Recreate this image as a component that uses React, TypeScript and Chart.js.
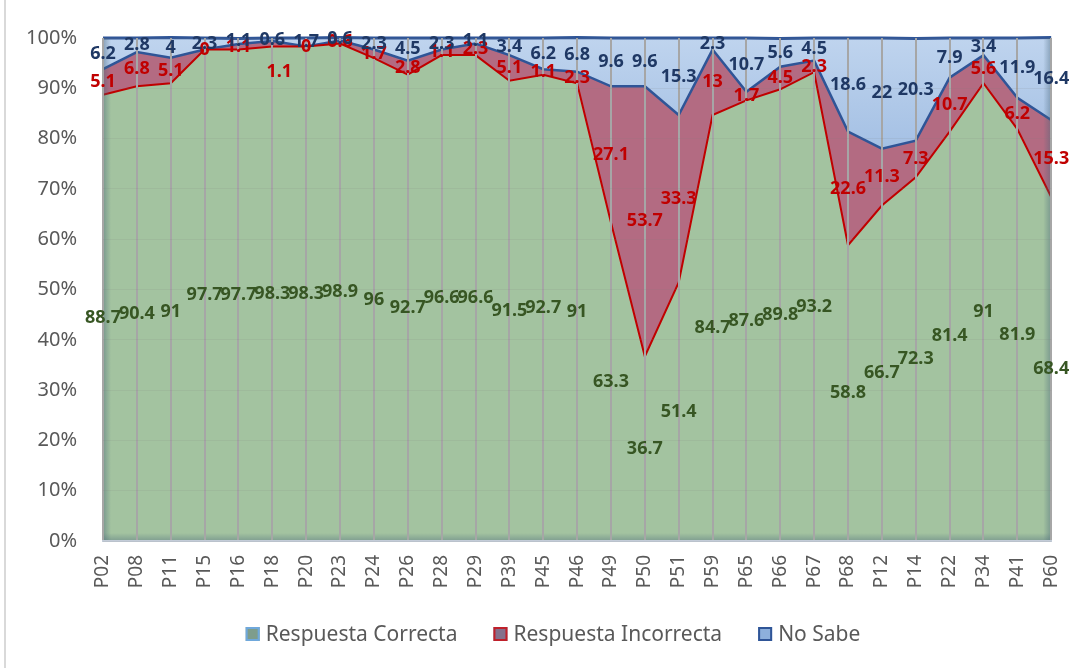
import React, { useEffect, useRef } from 'react';
import { Chart, registerables } from 'chart.js';

Chart.register(...registerables);

const categories = ['P02', 'P08', 'P11', 'P15', 'P16', 'P18', 'P20', 'P23', 'P24', 'P26', 'P28', 'P29', 'P39', 'P45', 'P46', 'P49', 'P50', 'P51', 'P59', 'P65', 'P66', 'P67', 'P68', 'P12', 'P14', 'P22', 'P34', 'P41', 'P60'];
const correct = [88.7, 90.4, 91, 97.7, 97.7, 98.3, 98.3, 98.9, 96, 92.7, 96.6, 96.6, 91.5, 92.7, 91, 63.3, 36.7, 51.4, 84.7, 87.6, 89.8, 93.2, 58.8, 66.7, 72.3, 81.4, 91, 81.9, 68.4];
const incorrect = [5.1, 6.8, 5.1, 0, 1.1, 1.1, 0, 0.6, 1.7, 2.8, 1.1, 2.3, 5.1, 1.1, 2.3, 27.1, 53.7, 33.3, 13, 1.7, 4.5, 2.3, 22.6, 11.3, 7.3, 10.7, 5.6, 6.2, 15.3];
const noSabe = [6.2, 2.8, 4, 2.3, 1.1, 0.6, 1.7, 0.6, 2.3, 4.5, 2.3, 1.1, 3.4, 6.2, 6.8, 9.6, 9.6, 15.3, 2.3, 10.7, 5.6, 4.5, 18.6, 22, 20.3, 7.9, 3.4, 11.9, 16.4];
const seriesNames = ['Respuesta Correcta', 'Respuesta Incorrecta', 'No Sabe'];

const FONT = "'Noto Sans', sans-serif";
const labelColors = ['#375623', '#C00000', '#1F3864'];
const legendFill = ['#7E9D8C', '#85708C', '#8DB0DC'];
const legendBorder = ['#6FA8DC', '#C0202A', '#2F5597'];
// label placements moved by Excel (series index -> point index -> [value position, dx px])
const labelMoves: Record<number, Record<number, [number, number]>> = { 1: { 5: [93.3, 7] } };

const bandLabels = {
  id: 'bandLabels',
  afterDraw(chart: any) {
    const ctx = chart.ctx;
    const xs = chart.scales.x;
    const ys = chart.scales.y;
    ctx.save();
    ctx.font = `bold 18px ${FONT}`;
    ctx.textAlign = 'center';
    ctx.textBaseline = 'middle';
    chart.data.datasets.forEach((ds: any, di: number) => {
      ds.data.forEach((v: number, i: number) => {
        let base = 0;
        for (let k = 0; k < di; k++) base += chart.data.datasets[k].data[i];
        let pos = base + v / 2;
        let dx = 0;
        const mv = labelMoves[di] && labelMoves[di][i];
        if (mv) { pos = mv[0]; dx = mv[1]; }
        ctx.fillStyle = labelColors[di];
        ctx.fillText(String(v), xs.getPixelForValue(i) + dx, ys.getPixelForValue(pos));
      });
    });
    ctx.restore();

    // legend
    ctx.save();
    ctx.font = `21px ${FONT}`;
    ctx.textBaseline = 'middle';
    ctx.textAlign = 'left';
    const box = 14, gapBox = 6, gapItem = 36;
    const widths = chart.data.datasets.map((d: any) => box + gapBox + ctx.measureText(d.label).width);
    const total = widths.reduce((a: number, b: number) => a + b, 0) + gapItem * (widths.length - 1);
    let x = 553 - total / 2;
    const y = 634;
    chart.data.datasets.forEach((d: any, di: number) => {
      ctx.fillStyle = legendFill[di];
      ctx.fillRect(x, y - box / 2, box, box);
      ctx.strokeStyle = legendBorder[di];
      ctx.lineWidth = 2;
      ctx.strokeRect(x + 1, y - box / 2 + 1, box - 2, box - 2);
      ctx.fillStyle = '#595959';
      ctx.fillText(d.label, x + box + gapBox, y + 1);
      x += widths[di] + gapItem;
    });
    ctx.restore();
  },
};

const edgeShade = {
  id: 'edgeShade',
  afterDatasetsDraw(chart: any) {
    const { ctx, chartArea: a } = chart;
    ctx.save();
    const w = 8;
    let g = ctx.createLinearGradient(a.left, 0, a.left + w, 0);
    g.addColorStop(0, 'rgba(70,100,120,0.45)');
    g.addColorStop(1, 'rgba(70,100,120,0)');
    ctx.fillStyle = g;
    ctx.fillRect(a.left, a.top, w, a.bottom - a.top);
    g = ctx.createLinearGradient(a.right, 0, a.right - w, 0);
    g.addColorStop(0, 'rgba(70,100,120,0.45)');
    g.addColorStop(1, 'rgba(70,100,120,0)');
    ctx.fillStyle = g;
    ctx.fillRect(a.right - w, a.top, w, a.bottom - a.top);
    g = ctx.createLinearGradient(0, a.bottom, 0, a.bottom - w);
    g.addColorStop(0, 'rgba(70,100,120,0.4)');
    g.addColorStop(1, 'rgba(70,100,120,0)');
    ctx.fillStyle = g;
    ctx.fillRect(a.left, a.bottom - w, a.right - a.left, w);
    ctx.restore();
  },
};

export default function App() {
  const ref = useRef<HTMLCanvasElement>(null);
  useEffect(() => {
    if (!ref.current) return;
    const blueFill = (c: any) => {
      const area = c.chart.chartArea;
      if (!area) return '#A7C4E6';
      const g = c.chart.ctx.createLinearGradient(0, area.top, 0, area.top + 180);
      g.addColorStop(0, '#BFD4EE');
      g.addColorStop(1, '#94B4DE');
      return g;
    };
    const chart = new Chart(ref.current, {
      type: 'line',
      data: {
        labels: categories,
        datasets: [
          { label: seriesNames[0], data: correct, fill: 'origin', backgroundColor: '#A3C3A0', borderColor: '#C00000', borderWidth: 2, pointRadius: 0, tension: 0 },
          { label: seriesNames[1], data: incorrect, fill: '-1', backgroundColor: '#B36B82', borderColor: '#2F5597', borderWidth: 2.5, pointRadius: 0, tension: 0 },
          { label: seriesNames[2], data: noSabe, fill: '-1', backgroundColor: blueFill, borderColor: '#2F5597', borderWidth: 3, pointRadius: 0, tension: 0, clip: 4 },
        ],
      },
      options: {
        responsive: false,
        animation: false,
        events: [],
        layout: { padding: { left: 0, right: 26, top: 36, bottom: 67 } },
        plugins: { legend: { display: false }, tooltip: { enabled: false }, title: { display: false } },
        scales: {
          x: {
            grid: { color: '#A6A6A6', lineWidth: 2, drawTicks: false, z: 1 },
            border: { display: true, color: '#C3CCD8', width: 2, z: 1 },
            ticks: { autoSkip: false, maxRotation: 90, minRotation: 90, padding: 14, color: '#595959', font: { family: FONT, size: 19 } },
            afterFit: (s: any) => { s.height = 60; },
          },
          y: {
            stacked: true,
            min: 0,
            max: 100,
            grid: { color: 'rgba(120,120,120,0.12)', lineWidth: 1, drawTicks: false, z: 1 },
            border: { display: false },
            ticks: { stepSize: 10, padding: 26, color: '#595959', font: { family: FONT, size: 20 }, callback: (v: any) => v + '%' },
            afterFit: (s: any) => { s.width = 103; },
          },
        },
      },
      plugins: [edgeShade, bandLabels],
    });
    return () => chart.destroy();
  }, []);
  return (
    <div style={{ position: 'absolute', left: 0, top: 0, width: 1088, height: 668, background: '#fff', overflow: 'hidden' }}>
      <canvas ref={ref} width={1088} height={668} style={{ display: 'block' }} />
      <div style={{ position: 'absolute', left: 4, top: 0, width: 2, height: 668, background: '#D9D9D9' }} />
    </div>
  );
}
